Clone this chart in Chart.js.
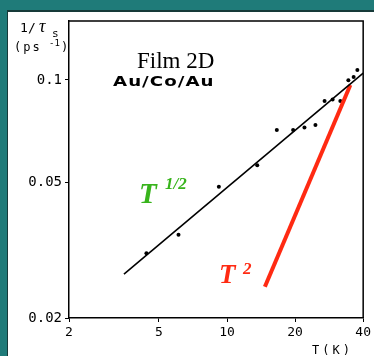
<!DOCTYPE html>
<html>
<head>
<meta charset="utf-8">
<script src="https://cdn.jsdelivr.net/npm/chart.js@4/dist/chart.umd.min.js"></script>
<style>
  html, body { margin:0; padding:0; background:#1f7b79; width:374px; height:356px; overflow:hidden; }
  #panel { position:absolute; left:7px; top:10px; width:367px; height:346px; background:#fff;
           border-top:2px solid #163a39; border-left:1px solid #163a39; box-sizing:border-box; }
  #c { position:absolute; left:0; top:0; }
</style>
</head>
<body>
<div id="panel"></div>
<canvas id="c" width="374" height="356"></canvas>
<script>
// Measured points: temperature (K) and spin relaxation rate 1/tau_s (ps^-1)
const tempK = [4.4, 6.1, 9.2, 13.6, 16.6, 19.6, 22.0, 24.6, 27.0, 29.3, 31.7, 34.4, 36.3, 37.7];
const rate  = [0.031, 0.0351, 0.0486, 0.0562, 0.0713, 0.0713, 0.0725, 0.0738, 0.0867, 0.0877, 0.0867, 0.0998, 0.102, 0.107];
// T^1/2 fit line (black)
const fitT    = [3.5, 40];
const fitRate = [0.0269, 0.1048];
// T^2 reference line (red)
const t2T    = [14.7, 35.1];
const t2Rate = [0.0247, 0.0967];
// Tick labels
const xTicks = [2, 5, 10, 20, 40];
const yTicks = [0.02, 0.05, 0.1];

const pts = (xs, ys) => xs.map((x, i) => ({x: x, y: ys[i]}));

const overlay = {
  id: 'overlay',
  afterDraw(chart) {
    const ctx = chart.ctx, a = chart.chartArea;
    ctx.save();
    // frame (top + right)
    ctx.strokeStyle = '#000'; ctx.lineWidth = 1.5;
    ctx.beginPath();
    ctx.moveTo(a.left, a.top); ctx.lineTo(a.right, a.top); ctx.lineTo(a.right, a.bottom);
    ctx.stroke();

    ctx.fillStyle = '#000';
    ctx.textBaseline = 'alphabetic';
    // "Film 2D"
    ctx.font = '23px "Liberation Serif", serif';
    ctx.fillText('Film 2D', 137, 68);
    // "Au/Co/Au" (wide bold face)
    ctx.save();
    ctx.translate(113, 86);
    ctx.scale(1.3, 1);
    ctx.font = 'bold 14px "DejaVu Sans", sans-serif';
    ctx.letterSpacing = '0.8px';
    ctx.fillText('Au/Co/Au', 0, 0);
    ctx.restore();

    // y axis title 1/tau_s (ps^-1)
    ctx.font = '13px "DejaVu Sans Mono", monospace';
    ctx.fillText('1', 20, 32);
    ctx.fillText('/', 28, 32);
    ctx.font = 'italic 18px "Liberation Serif", serif';
    ctx.fillText('\u03C4', 39, 32);
    ctx.font = '11px "DejaVu Sans Mono", monospace';
    ctx.fillText('s', 52, 37);
    ctx.font = '12px "DejaVu Sans Mono", monospace';
    ctx.letterSpacing = '2px';
    ctx.fillText('(ps', 14, 51);
    ctx.font = '9px "DejaVu Sans Mono", monospace';
    ctx.letterSpacing = '0px';
    ctx.fillText('-1', 49, 46);
    ctx.font = '12px "DejaVu Sans Mono", monospace';
    ctx.fillText(')', 61, 51);

    // x axis title
    ctx.font = '12px "DejaVu Sans Mono", monospace';
    ctx.letterSpacing = '3px';
    ctx.fillText('T(K)', 312, 354);
    ctx.letterSpacing = '0px';

    // T^1/2 label (green)
    ctx.fillStyle = '#38b41c';
    ctx.font = 'bold italic 29px "Liberation Serif", serif';
    ctx.fillText('T', 139, 203);
    ctx.font = 'bold italic 17px "Liberation Serif", serif';
    ctx.fillText('1/2', 165, 189);

    // T^2 label (red)
    ctx.fillStyle = '#ff2a12';
    ctx.font = 'bold italic 27px "Liberation Serif", serif';
    ctx.fillText('T', 219, 283);
    ctx.font = 'bold italic 17px "Liberation Serif", serif';
    ctx.fillText('2', 243, 274);
    ctx.restore();
  }
};

new Chart(document.getElementById('c'), {
  type: 'scatter',
  data: {
    datasets: [
      { data: pts(fitT, fitRate), showLine: true, borderColor: '#000', borderWidth: 1.6,
        pointRadius: 0, fill: false },
      { data: pts(t2T, t2Rate), showLine: true, borderColor: '#ff2a12', borderWidth: 4,
        pointRadius: 0, fill: false },
      { data: pts(tempK, rate), showLine: false, pointRadius: 2, pointBorderWidth: 0,
        backgroundColor: '#000', borderColor: '#000' }
    ]
  },
  options: {
    responsive: false,
    animation: false,
    devicePixelRatio: 1,
    layout: { padding: { top: 21, right: 10, left: 0, bottom: 0 } },
    plugins: { legend: { display: false }, tooltip: { enabled: false } },
    scales: {
      x: {
        type: 'logarithmic', min: 2, max: 40,
        afterFit(s) { s.height = 38; },
        afterBuildTicks(s) { s.ticks = xTicks.map(v => ({value: v})); },
        ticks: { callback: v => String(v), color: '#000', padding: 3, maxRotation: 0, autoSkip: false,
                 font: { family: '"DejaVu Sans Mono", monospace', size: 13 } },
        grid: { drawOnChartArea: false, drawTicks: true, tickLength: 4, color: '#000', lineWidth: 1 },
        border: { display: true, color: '#000', width: 1.5 }
      },
      y: {
        type: 'logarithmic', min: 0.02, max: 0.149,
        afterFit(s) { s.width = 69; },
        afterBuildTicks(s) { s.ticks = yTicks.map(v => ({value: v})); },
        ticks: { callback: v => String(v), color: '#000', padding: 3, autoSkip: false,
                 font: { family: '"DejaVu Sans Mono", monospace', size: 14 } },
        grid: { drawOnChartArea: false, drawTicks: true, tickLength: 4, color: '#000', lineWidth: 1 },
        border: { display: true, color: '#000', width: 1.5 }
      }
    }
  },
  plugins: [overlay]
});
</script>
</body>
</html>
